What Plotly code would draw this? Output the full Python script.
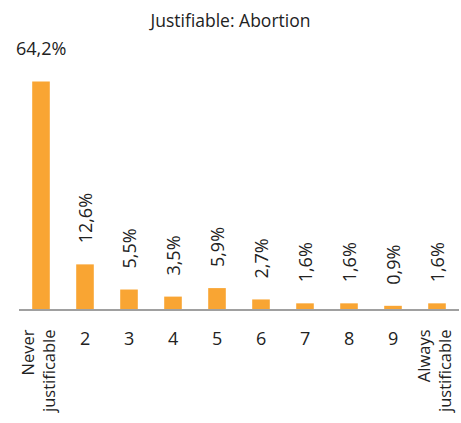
import plotly.graph_objects as go

categories = ["Never<br>justificable", "2", "3", "4", "5", "6", "7", "8", "9", "Always<br>justificable"]
values = [64.2, 12.6, 5.5, 3.5, 5.9, 2.7, 1.6, 1.6, 0.9, 1.6]
value_labels = ["64,2%", "12,6%", "5,5%", "3,5%", "5,9%", "2,7%", "1,6%", "1,6%", "0,9%", "1,6%"]
title = "Justifiable: Abortion"

FONT = "Open Sans"
COLOR = "#F9A533"
TXT = "#222222"
x = list(range(len(categories)))

fig = go.Figure(go.Bar(x=x, y=values, marker=dict(color=COLOR, line=dict(width=0)), width=0.4,
                       hoverinfo="skip"))

ann = []
for i, (v, lab) in enumerate(zip(values, value_labels)):
    if i == 0:
        ann.append(dict(x=i, y=v, xref="x", yref="y", text=lab, showarrow=False,
                        yanchor="bottom", yshift=20, font=dict(family=FONT, size=18, color=TXT)))
    else:
        ann.append(dict(x=i, y=v, xref="x", yref="y", text=lab, showarrow=False, textangle=-90,
                        yanchor="bottom", yshift=19, font=dict(family=FONT, size=18, color=TXT)))

for i, c in enumerate(categories):
    if "<br>" in c:
        ann.append(dict(x=i, y=0, xref="x", yref="paper", text=c, showarrow=False, textangle=-90,
                        yanchor="top", align="right", yshift=-18, xshift=-3,
                        font=dict(family=FONT, size=16.5, color=TXT)))
    else:
        ann.append(dict(x=i, y=0, xref="x", yref="paper", text=c, showarrow=False,
                        yanchor="top", yshift=-15, font=dict(family=FONT, size=18, color=TXT)))

fig.update_layout(
    width=461, height=423,
    margin=dict(l=19, r=2, t=60, b=113.5),
    paper_bgcolor="white", plot_bgcolor="white",
    title=dict(text=title, x=0.5, xanchor="center", y=0.950, yanchor="middle",
               font=dict(family=FONT, size=17.5, color=TXT)),
    xaxis=dict(range=[-0.5, 9.5], showticklabels=False, ticks="", showgrid=False,
               showline=True, linecolor="#a0a0a0", linewidth=1.5, zeroline=False),
    yaxis=dict(range=[0, 70.3], visible=False, showgrid=False, zeroline=False),
    annotations=ann,
    showlegend=False,
)

fig.write_html("out.html", config={"displayModeBar": False},
               post_script="document.body.style.margin='0';")
